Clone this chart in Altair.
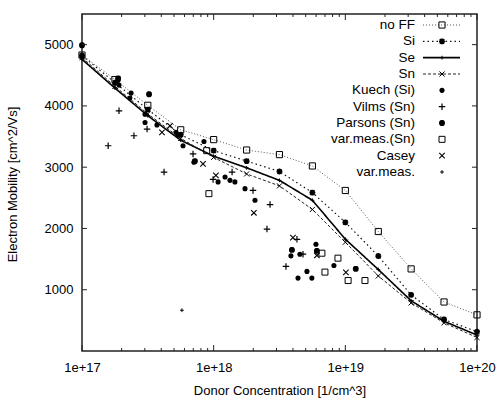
import altair as alt
import pandas as pd

# ---- model curves ----
conc = [1e17, 1.78e17, 3.16e17, 5.62e17, 1e18, 1.78e18, 3.16e18, 5.62e18,
        1e19, 1.78e19, 3.16e19, 5.62e19, 1e20]
no_ff = [4830, 4430, 4010, 3610, 3450, 3280, 3205, 3020, 2620, 1950, 1340, 800, 590]
si = [4820, 4380, 3940, 3530, 3270, 3100, 2930, 2585, 2100, 1550, 915, 515, 315]
se = [4760, 4290, 3840, 3440, 3180, 2990, 2785, 2460, 1825, 1330, 820, 485, 260]
sn = [4790, 4320, 3870, 3470, 3160, 2890, 2695, 2310, 1775, 1225, 785, 460, 220]

# ---- measurements ----
kuech_conc = [1.0e17, 1.88e17, 1.91e17, 2.36e17, 2.31e17, 3.01e17, 3.01e17, 3.71e17,
              5.17e17, 5.36e17, 5.85e17, 8.44e17, 7.08e17, 1.08e18, 1.22e18, 1.33e18,
              1.45e18, 1.73e18, 2.06e18, 3.86e18, 4.52e18, 5.98e18, 8.19e18, 5.11e18,
              4.37e18, 5.57e18]
kuech_mob = [4810, 4420, 4340, 4210, 4130, 3865, 3730, 3690, 3570, 3520, 3350, 3420,
             3080, 2760, 2840, 2785, 2760, 2650, 2460, 1553, 1580, 1742, 1396, 1299,
             1190, 1190]
vilms_conc = [1.58e17, 1.91e17, 2.48e17, 3.12e17, 4.2e17, 6.97e17, 9.9e17, 1.38e18,
              1.99e18, 2.68e18, 2.54e18, 4.29e18, 4.77e18, 3.54e18]
vilms_mob = [3350, 3920, 3513, 3622, 2920, 3217, 2800, 2920, 2620, 2390, 1990, 1823,
             1580, 1380]
parsons_conc = [1.0e17, 1.88e17, 3.23e17, 7.2e17, 3.93e18, 6.08e18, 1.2e19]
parsons_mob = [4990, 4450, 4190, 3100, 1650, 1633, 1341]
varsn_conc = [8.85e17, 9.2e17, 6.64e18, 8.79e18, 7.0e18, 1.05e19, 1.41e19]
varsn_mob = [3270, 2568, 1596, 1515, 1288, 1150, 1150]
casey_conc = [4.05e17, 4.66e17, 8.3e17, 1.04e18, 2.02e18, 4.0e18, 6.08e18, 1.01e19]
casey_mob = [3568, 3676, 3055, 2866, 2256, 1850, 1559, 1283]
varm_conc = [5.74e17]
varm_mob = [665]

legend_names = ["no FF", "Si", "Se", "Sn", "Kuech (Si)", "Vilms (Sn)", "Parsons (Sn)",
                "var.meas.(Sn)", "Casey", "var.meas."]

x_major = [1e17, 1e18, 1e19, 1e20]
x_minor = [m * d for d in [1e17, 1e18, 1e19] for m in range(2, 10)]
y_major = [1000, 2000, 3000, 4000, 5000]

PLUS = "M-1,0L1,0M0,-1L0,1"
CROSS = "M-1,-1L1,1M-1,1L1,-1"
ASTER = "M-1,0L1,0M0,-1L0,1M-0.75,-0.75L0.75,0.75M-0.75,0.75L0.75,-0.75"

FONT = "Liberation Sans"
W, H = 395, 337

xs = alt.Scale(type="log", domain=[1e17, 1e20], nice=False)
ys = alt.Scale(domain=[0, 5500], nice=False, zero=False)

X = alt.X("conc:Q", scale=xs,
          axis=alt.Axis(values=x_major, labelExpr="'1e+' + round(log(datum.value)/LN10)",
                        title="Donor Concentration [1/cm^3]", ticks=False, tickSize=0,
                        domain=False, grid=False, labelPadding=10, labelFlush=False,
                        titleY=43, titleBaseline="alphabetic"))
Y = alt.Y("mob:Q", scale=ys,
          axis=alt.Axis(values=y_major, format="d", title="Electron Mobility [cm^2/Vs]",
                        ticks=False, tickSize=0, domain=False, grid=False, labelPadding=9,
                        titleX=-70, titleY=170, titleAngle=-90, titleAlign="center",
                        titleBaseline="middle"))

line_styles = {
    "no FF": dict(data=no_ff, color="#555555", dash=[1, 2], width=1.0,
                  shape="square", size=38, sw=1.0),
    "Si": dict(data=si, color="#111111", dash=[1.5, 3], width=1.2,
               shape=ASTER, size=34, sw=1.8),
    "Se": dict(data=se, color="#000000", dash=[1, 0], width=1.6,
               shape=PLUS, size=14, sw=1.0),
    "Sn": dict(data=sn, color="#222222", dash=[3, 2], width=1.0,
               shape=CROSS, size=26, sw=1.0),
}

scatter_styles = {
    "Kuech (Si)": dict(c=kuech_conc, m=kuech_mob, shape="circle", size=26, filled=True, sw=0),
    "Vilms (Sn)": dict(c=vilms_conc, m=vilms_mob, shape=PLUS, size=42, filled=False, sw=1.2),
    "Parsons (Sn)": dict(c=parsons_conc, m=parsons_mob, shape=ASTER, size=34, filled=False, sw=2.0),
    "var.meas.(Sn)": dict(c=varsn_conc, m=varsn_mob, shape="square", size=36, filled=False, sw=1.0),
    "Casey": dict(c=casey_conc, m=casey_mob, shape=CROSS, size=30, filled=False, sw=1.1),
    "var.meas.": dict(c=varm_conc, m=varm_mob, shape=PLUS, size=14, filled=False, sw=1.0),
}

layers = []
for name, s in line_styles.items():
    df = pd.DataFrame({"conc": conc, "mob": s["data"]})
    base = alt.Chart(df)
    layers.append(base.mark_line(color=s["color"], strokeDash=s["dash"],
                                 strokeWidth=s["width"]).encode(x=X, y=Y))
    layers.append(base.mark_point(shape=s["shape"], size=s["size"], filled=False,
                                  color="#000000", strokeWidth=s["sw"], opacity=1)
                  .encode(x=X, y=Y))

for name, s in scatter_styles.items():
    df = pd.DataFrame({"conc": s["c"], "mob": s["m"]})
    if s["filled"]:
        mk = alt.Chart(df).mark_point(shape=s["shape"], size=s["size"], filled=True,
                                      color="#000000", opacity=1)
    else:
        mk = alt.Chart(df).mark_point(shape=s["shape"], size=s["size"], filled=False,
                                      color="#000000", strokeWidth=s["sw"], opacity=1)
    layers.append(mk.encode(x=X, y=Y))

# inward ticks
xmaj = alt.Chart(pd.DataFrame({"conc": x_major}))
xmin = alt.Chart(pd.DataFrame({"conc": x_minor}))
ymaj = alt.Chart(pd.DataFrame({"mob": y_major}))
tick_color = "#222222"
layers += [
    xmaj.mark_rule(color=tick_color).encode(x=X, y=alt.value(H), y2=alt.value(H - 6)),
    xmaj.mark_rule(color=tick_color).encode(x=X, y=alt.value(0), y2=alt.value(6)),
    xmin.mark_rule(color=tick_color).encode(x=X, y=alt.value(H), y2=alt.value(H - 3)),
    xmin.mark_rule(color=tick_color).encode(x=X, y=alt.value(0), y2=alt.value(3)),
    ymaj.mark_rule(color=tick_color).encode(y=Y, x=alt.value(0), x2=alt.value(5)),
    ymaj.mark_rule(color=tick_color).encode(y=Y, x=alt.value(W), x2=alt.value(W - 5)),
]

main = alt.layer(*layers)

# ---- custom legend (labels left, samples right) ----
leg_df = pd.DataFrame({"name": legend_names})
LY = alt.Y("name:N", scale=alt.Scale(type="point", domain=legend_names,
                                     range=[11, 158], padding=0), axis=None)
leg_base = alt.Chart(leg_df)
leg_layers = [leg_base.mark_text(align="right", baseline="middle", font=FONT,
                                 fontSize=13.5, color="#000000")
              .encode(y=LY, x=alt.value(333), text="name:N")]
for name, s in line_styles.items():
    f = leg_base.transform_filter(alt.datum.name == name)
    leg_layers.append(f.mark_rule(color=s["color"], strokeDash=s["dash"],
                                  strokeWidth=s["width"])
                      .encode(y=LY, x=alt.value(341), x2=alt.value(378)))
    leg_layers.append(f.mark_point(shape=s["shape"], size=s["size"], filled=False,
                                   color="#000000", strokeWidth=s["sw"], opacity=1)
                      .encode(y=LY, x=alt.value(360)))
for name, s in scatter_styles.items():
    f = leg_base.transform_filter(alt.datum.name == name)
    if s["filled"]:
        mk = f.mark_point(shape=s["shape"], size=s["size"], filled=True,
                          color="#000000", opacity=1)
    else:
        mk = f.mark_point(shape=s["shape"], size=s["size"], filled=False,
                          color="#000000", strokeWidth=s["sw"], opacity=1)
    leg_layers.append(mk.encode(y=LY, x=alt.value(360)))

legend = alt.layer(*leg_layers)

chart = (
    alt.layer(main, legend)
    .resolve_scale(y="independent")
    .properties(width=W, height=H,
                autosize=alt.AutoSizeParams(type="none"),
                padding={"left": 82, "top": 14, "right": 22, "bottom": 48},
                background="white")
    .configure_view(stroke="#222222", strokeWidth=1.5)
    .configure_axis(labelFont=FONT, titleFont=FONT, labelFontSize=13, titleFontSize=13,
                    titleFontWeight="normal", labelColor="#000000", titleColor="#000000")
)

chart.save("out.html", embed_options={"renderer": "svg", "actions": False})
